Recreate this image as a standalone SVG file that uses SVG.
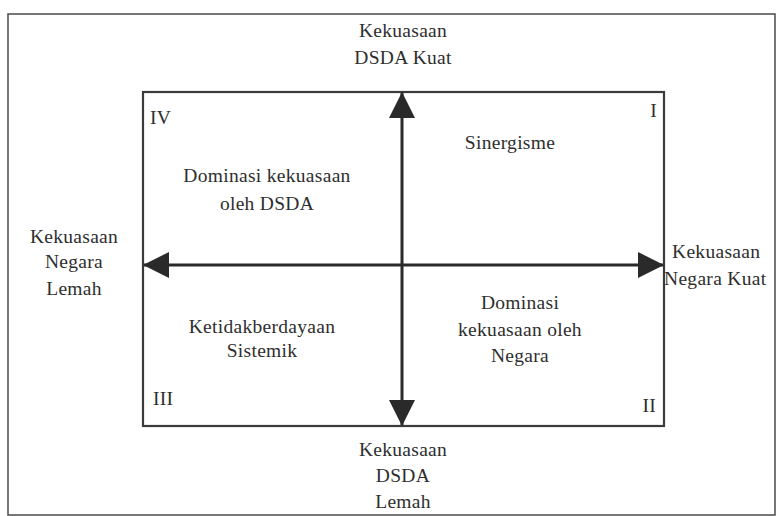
<svg xmlns="http://www.w3.org/2000/svg" width="778" height="516" viewBox="0 0 778 516">
<style>
text{font-family:"Liberation Serif","DejaVu Serif",serif;font-size:19.5px;fill:#2e2e2e;letter-spacing:0.3px}
.c{text-anchor:middle}
.e{text-anchor:end}
.box{fill:none;stroke:#3a3a3a;stroke-width:2.2}
.outer{fill:none;stroke:#555;stroke-width:1.6}
.ax{stroke:#2a2a2a;stroke-width:3;fill:none}
</style>
<defs>
<marker id="ah" markerUnits="userSpaceOnUse" markerWidth="26" markerHeight="26" viewBox="0 0 26 26" refX="25" refY="13" orient="auto-start-reverse">
<path d="M0,0 L26,13 L0,26 Z" fill="#2a2a2a"/>
</marker>
</defs>
<rect class="outer" x="8" y="14" width="767" height="501"/>
<g id="quadrant-box"><rect class="box" x="143" y="92" width="521" height="334"/></g>
<g id="connectors">
<line class="ax" x1="402" y1="93" x2="402" y2="425" marker-start="url(#ah)" marker-end="url(#ah)"/>
<line class="ax" x1="144" y1="265" x2="663" y2="265" marker-start="url(#ah)" marker-end="url(#ah)"/>
</g>
<g id="label-top"><text class="c" x="403" y="37">Kekuasaan</text><text class="c" x="403" y="64">DSDA Kuat</text></g>
<g id="label-bottom"><text class="c" x="403" y="456">Kekuasaan</text><text class="c" x="403" y="482">DSDA</text><text class="c" x="403" y="508">Lemah</text></g>
<g id="label-left"><text class="c" x="74" y="243">Kekuasaan</text><text class="c" x="74" y="268">Negara</text><text class="c" x="74" y="295">Lemah</text></g>
<g id="label-right"><text x="672" y="258">Kekuasaan</text><text x="664" y="285">Negara Kuat</text></g>
<g id="q1"><text class="e" x="657" y="117">I</text><text class="c" x="510" y="149">Sinergisme</text></g>
<g id="q4"><text x="150" y="124">IV</text><text class="c" x="267" y="182">Dominasi kekuasaan</text><text class="c" x="267" y="210">oleh DSDA</text></g>
<g id="q3"><text x="153" y="405">III</text><text class="c" x="262" y="333">Ketidakberdayaan</text><text class="c" x="262" y="357">Sistemik</text></g>
<g id="q2"><text class="e" x="656" y="412">II</text><text class="c" x="520" y="309">Dominasi</text><text class="c" x="520" y="336">kekuasaan oleh</text><text class="c" x="520" y="362">Negara</text></g>
</svg>
